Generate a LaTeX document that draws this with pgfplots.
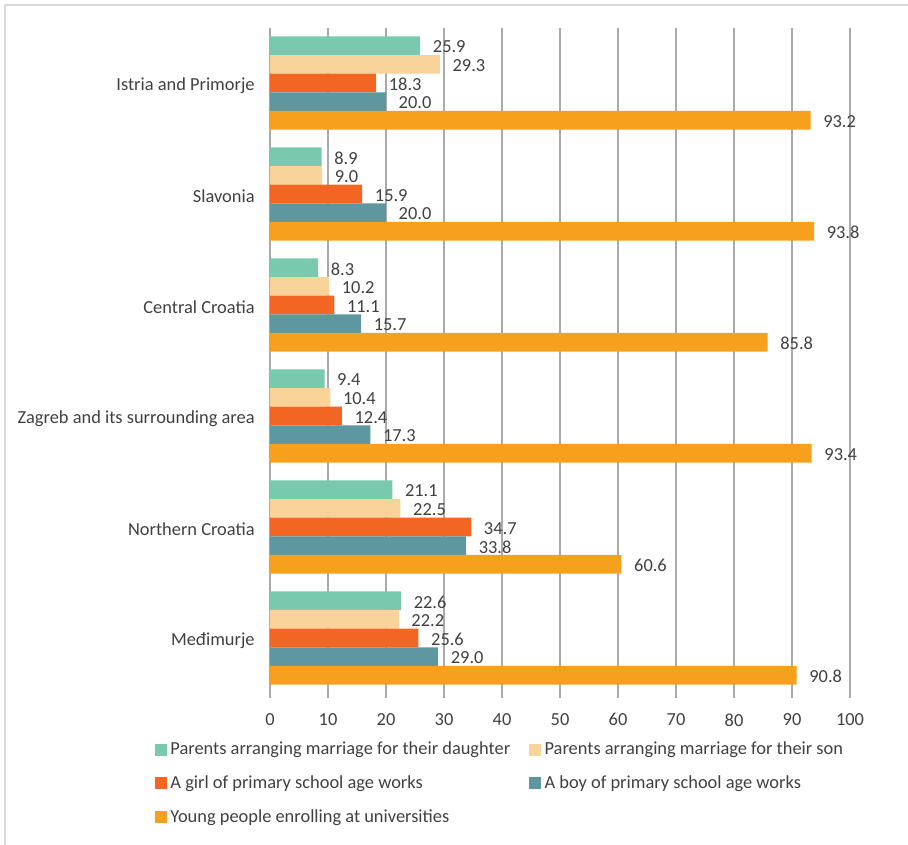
\documentclass[border=0pt]{standalone}
\usepackage{pgfplots}
\pgfplotsset{compat=1.18}
\usepackage{fontspec}
\setmainfont{Carlito}
\definecolor{cA}{RGB}{121,201,174}
\definecolor{cB}{RGB}{248,212,154}
\definecolor{cC}{RGB}{242,101,34}
\definecolor{cD}{RGB}{94,151,160}
\definecolor{cE}{RGB}{247,160,30}
\definecolor{txt}{RGB}{64,64,64}
\definecolor{gridgray}{RGB}{170,170,170}
\definecolor{framegray}{RGB}{217,217,217}
\begin{document}
\begin{tikzpicture}
\useasboundingbox (0,0) rectangle (681pt,633.75pt);
\draw[framegray,line width=1.5pt] (3.75pt,-2pt) -- (3.75pt,630pt) -- (690pt,630pt);
\begin{axis}[
  at={(202.5pt,113.625pt)}, anchor=south west,
  width=435pt, height=499.5pt, scale only axis,
  xmin=0, xmax=100, ymin=-0.5, ymax=5.5, y dir=reverse,
  xtick={0,10,...,100}, ytick={0,...,5},
  yticklabels={Istria and Primorje,Slavonia,Central Croatia,Zagreb and its surrounding area,Northern Croatia,Me\dj imurje},
  xmajorgrids, grid style={color=gridgray, line width=1.2pt},
  axis line style={draw=none},
  tick pos=left, tick align=outside, major tick length=3pt,
  xtick style={color=gridgray, line width=1.2pt},
  ytick style={draw=none},
  font=\fontsize{13.8}{16.5}\selectfont,
  tick label style={color=txt},
  /pgf/number format/assume math mode=true,
  xticklabel style={yshift=-8.5pt},
  yticklabel style={xshift=-5pt, yshift=-2pt},
  xbar, bar width=0.168,
  point meta=x,
  nodes near coords={\pgfmathprintnumber[fixed,fixed zerofill,precision=1,assume math mode=true]{\pgfplotspointmeta}},
  nodes near coords style={color=txt, anchor=west, xshift=6pt, yshift=-1pt, font=\fontsize{13.8}{16.5}\selectfont},
  legend columns=2,
  legend cell align=left,
  legend style={at={(axis description cs:-0.1983,-0.069)}, anchor=north west, draw=none, fill=none,
    inner sep=0pt, outer sep=0pt, row sep=10.3pt, text=txt,
    font=\fontsize{13.8}{16.5}\selectfont,
    /tikz/every odd column/.append style={column sep=0.6pt},
    /tikz/every even column/.append style={column sep=12.2pt}},
  legend image code/.code={\fill[#1,draw=none] (0pt,-4.5pt) rectangle (9pt,4.5pt);},
]
\addplot[fill=cA, draw=none, bar shift=-0.336] coordinates {(25.9,0) (8.9,1) (8.3,2) (9.4,3) (21.1,4) (22.6,5)};
\addplot[fill=cB, draw=none, bar shift=-0.168] coordinates {(29.3,0) (9.0,1) (10.2,2) (10.4,3) (22.5,4) (22.2,5)};
\addplot[fill=cC, draw=none, bar shift=0] coordinates {(18.3,0) (15.9,1) (11.1,2) (12.4,3) (34.7,4) (25.6,5)};
\addplot[fill=cD, draw=none, bar shift=0.168] coordinates {(20.0,0) (20.0,1) (15.7,2) (17.3,3) (33.8,4) (29.0,5)};
\addplot[fill=cE, draw=none, bar shift=0.336] coordinates {(93.2,0) (93.8,1) (85.8,2) (93.4,3) (60.6,4) (90.8,5)};
\legend{Parents arranging marriage for their daughter,Parents arranging marriage for their son,A girl of primary school age works,A boy of primary school age works,Young people enrolling at universities}
\end{axis}
\end{tikzpicture}
\end{document}
